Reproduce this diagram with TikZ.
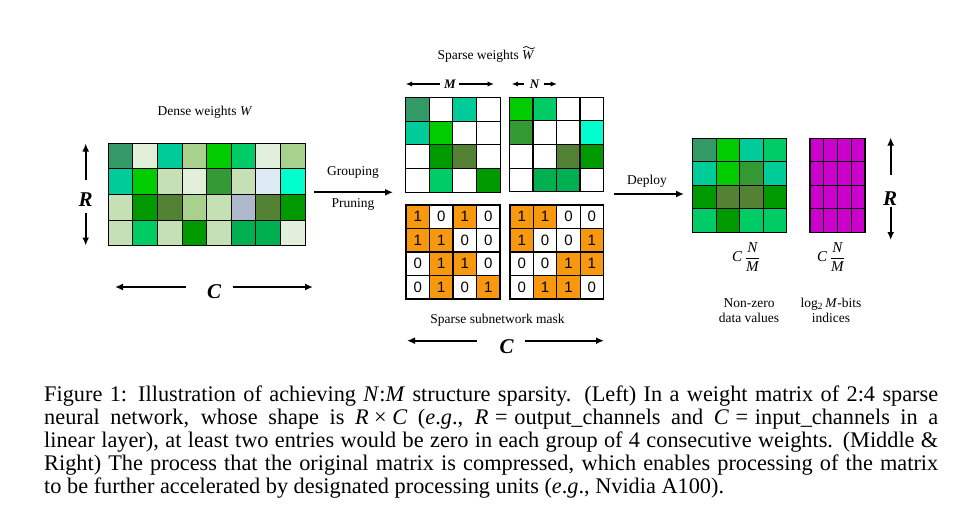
\documentclass[tikz,border=0pt]{standalone}
\usepackage{fontspec}
\usepackage{amsmath}
\setmainfont{Liberation Serif}
\newfontfamily\digitfont{Liberation Sans}
\usetikzlibrary{arrows.meta}
\definecolor{dtl}{HTML}{339966}
\definecolor{pal}{HTML}{E2EFDA}
\definecolor{tea}{HTML}{00CC99}
\definecolor{lgr}{HTML}{A9D18E}
\definecolor{bgr}{HTML}{00CC00}
\definecolor{grn}{HTML}{00CC66}
\definecolor{pgr}{HTML}{C5E0B4}
\definecolor{mgr}{HTML}{339933}
\definecolor{pbl}{HTML}{DEEBF7}
\definecolor{cyn}{HTML}{00FFCC}
\definecolor{dgr}{HTML}{009900}
\definecolor{olv}{HTML}{548235}
\definecolor{gbl}{HTML}{ADB9CA}
\definecolor{gbf}{HTML}{00B050}
\definecolor{orng}{HTML}{F7980F}
\definecolor{mag}{HTML}{CC00CC}
\tikzset{
  cell/.style={draw=black, line width=1.1pt},
  lbl/.style={inner sep=0pt, font=\fontsize{13.5}{15.5}\selectfont, align=center},
  big/.style={inner sep=0pt, font=\fontsize{21}{23}\selectfont\bfseries\itshape},
  small/.style={inner sep=0pt, font=\fontsize{13}{15}\selectfont\bfseries\itshape},
  digit/.style={inner sep=0pt, font=\fontsize{15}{17}\selectfont\digitfont},
  arr/.style={line width=1.8pt, -{Latex[length=8pt,width=7pt]}},
  sarr/.style={line width=1.5pt, -{Latex[length=6.5pt,width=5.5pt]}},
}
\begin{document}
\begin{tikzpicture}[x=1pt,y=-1pt]
\useasboundingbox[fill=white] (0,0) rectangle (968,527);

% ---------- Dense weights ----------
\foreach \row [count=\ri from 0] in {
  {dtl,pal,tea,lgr,bgr,grn,pal,lgr},
  {tea,bgr,pgr,pal,mgr,pgr,pbl,cyn},
  {pgr,dgr,olv,lgr,pgr,gbl,olv,dgr},
  {pgr,grn,pgr,dgr,pgr,gbf,gbf,pal}}{
  \foreach \col [count=\ci from 0] in \row {
    \filldraw[cell, fill=\col] ({108.3+\ci*24.6},{143.3+\ri*25.6}) rectangle ++(24.6,25.6);
  }
}
\node[lbl] (denseT) at (205,112) {Dense weights \textit{W}};
\node[big] (denseR) at (85.7,200) {R};
\coordinate (dRu1) at (85.7,180); \coordinate (dRu2) at (85.7,143.5);
\coordinate (dRd1) at (85.7,213); \coordinate (dRd2) at (85.7,245.5);
\draw[arr] (dRu1) -- (dRu2);
\draw[arr] (dRd1) -- (dRd2);
\node[big] (denseC) at (214,292) {C};
\coordinate (dCl1) at (186,287); \coordinate (dCl2) at (115,287);
\coordinate (dCr1) at (233,287); \coordinate (dCr2) at (313,287);
\draw[arr] (dCl1) -- (dCl2);
\draw[arr] (dCr1) -- (dCr2);

% ---------- Grouping arrow ----------
\coordinate (g1) at (314,192.3); \coordinate (g2) at (393,192.3);
\draw[arr] (g1) -- (g2);
\node[lbl] (grp) at (353,172.7) {Grouping};
\node[lbl] (prn) at (353,204) {Pruning};

% ---------- Sparse weights ----------
\node[lbl] (sparseT) at (486,56) {Sparse weights \textit{W}};
\coordinate (tl) at ([xshift=-11.5pt,yshift=2pt]sparseT.north east);
\coordinate (tr) at ([xshift=0pt,yshift=2pt]sparseT.north east);
\draw[line width=0.7pt] (tl) .. controls +(4,-4.5) and +(-4,4.5) .. (tr);
\foreach \row [count=\ri from 0] in {
  {dtl,white,tea,white},
  {tea,bgr,white,white},
  {white,dgr,olv,white},
  {white,grn,white,dgr}}{
  \foreach \col [count=\ci from 0] in \row {
    \filldraw[cell, fill=\col] ({405.7+\ci*23.6},{97.3+\ri*23.8}) rectangle ++(23.6,23.8);
  }
}
\foreach \row [count=\ri from 0] in {
  {bgr,grn,white,white},
  {mgr,white,white,cyn},
  {white,white,olv,dgr},
  {white,gbf,gbf,white}}{
  \foreach \col [count=\ci from 0] in \row {
    \filldraw[cell, fill=\col] ({509.5+\ci*23.5},{97.3+\ri*23.6}) rectangle ++(23.5,23.6);
  }
}
\node[small] (labM) at (450,84) {M};
\coordinate (m1) at (440,84); \coordinate (m2) at (405.7,84);
\coordinate (m3) at (459,84); \coordinate (m4) at (494,84);
\draw[sarr] (m1) -- (m2);
\draw[sarr] (m3) -- (m4);
\node[small] (labN) at (534.5,84) {N};
\coordinate (n1) at (524,84); \coordinate (n2) at (511.7,84);
\coordinate (n3) at (544,84); \coordinate (n4) at (557,84);
\draw[sarr] (n1) -- (n2);
\draw[sarr] (n3) -- (n4);

% ---------- Mask ----------
\foreach \row [count=\ri from 0] in {
  {1,0,1,0},{1,1,0,0},{0,1,1,0},{0,1,0,1}}{
  \foreach \v [count=\ci from 0] in \row {
    \ifnum\v=1 \def\fc{orng}\else\def\fc{white}\fi
    \filldraw[cell, fill=\fc] ({406+\ci*23.5},{205+\ri*23.5}) rectangle ++(23.5,23.5);
    \node[digit] (mL-\ri-\ci) at ({406+\ci*23.5+11.75},{205+\ri*23.5+11.75}) {\v};
  }
}
\foreach \row [count=\ri from 0] in {
  {1,1,0,0},{1,0,0,1},{0,0,1,1},{0,1,1,0}}{
  \foreach \v [count=\ci from 0] in \row {
    \ifnum\v=1 \def\fc{orng}\else\def\fc{white}\fi
    \filldraw[cell, fill=\fc] ({510+\ci*23.4},{205+\ri*23.5}) rectangle ++(23.4,23.5);
    \node[digit] (mR-\ri-\ci) at ({510+\ci*23.4+11.7},{205+\ri*23.5+11.75}) {\v};
  }
}
\node[lbl] (maskT) at (497.5,320) {Sparse subnetwork mask};
\node[big] (maskC) at (506.7,347) {C};
\coordinate (mc1) at (477,340.7); \coordinate (mc2) at (407,340.7);
\coordinate (mc3) at (525,340.7); \coordinate (mc4) at (604,340.7);
\draw[arr] (mc1) -- (mc2);
\draw[arr] (mc3) -- (mc4);

% ---------- Deploy ----------
\coordinate (d1) at (614,194); \coordinate (d2) at (684,194);
\draw[arr] (d1) -- (d2);
\node[lbl] (dep) at (647,181.7) {Deploy};

% ---------- Compressed ----------
\foreach \row [count=\ri from 0] in {
  {dtl,bgr,tea,grn},
  {tea,bgr,mgr,tea},
  {dgr,olv,olv,dgr},
  {grn,dgr,grn,grn}}{
  \foreach \col [count=\ci from 0] in \row {
    \filldraw[cell, fill=\col] ({692.7+\ci*23.5},{138.3+\ri*23.5}) rectangle ++(23.5,23.5);
  }
}
\foreach \ri in {0,...,3}{
  \foreach \ci in {0,...,3}{
    \filldraw[cell, fill=mag] ({810+\ci*13.75},{138.3+\ri*23.5}) rectangle ++(13.75,23.5);
  }
}
\node[inner sep=0pt, font=\fontsize{15}{17}\selectfont] (cnm1) at (746,257) {\textit{C}\,$\dfrac{\textit{N}}{\textit{M}}$};
\node[inner sep=0pt, font=\fontsize{15}{17}\selectfont] (cnm2) at (831,257) {\textit{C}\,$\dfrac{\textit{N}}{\textit{M}}$};
\node[lbl] (nz) at (749,310.5) {Non-zero\\data values};
\node[lbl] (lg) at (831,310.5) {log\textsubscript{2}\,\textit{M}-bits\\indices};
\node[big] (rightR) at (890,199) {R};
\coordinate (rR1) at (890.7,175); \coordinate (rR2) at (890.7,137.5);
\coordinate (rR3) at (890.7,207); \coordinate (rR4) at (890.7,240);
\draw[arr] (rR1) -- (rR2);
\draw[arr] (rR3) -- (rR4);

% ---------- Caption ----------
\node[anchor=base west, inner sep=0pt] (cap) at (44,401) {\parbox[t]{894pt}{\fontsize{22.3}{23}\selectfont
Figure 1: Illustration of achieving \textit{N}:\textit{M} structure sparsity. (Left) In a weight matrix of 2:4 sparse\linebreak
neural network, whose shape is \textit{R}\hspace{0.25em}×\hspace{0.25em}\textit{C} (\textit{e}.\textit{g}., \textit{R}\hspace{0.3em}=\hspace{0.3em}output\_channels and \textit{C}\hspace{0.3em}=\hspace{0.3em}input\_channels in a\linebreak
linear layer), at least two entries would be zero in each group of 4 consecutive weights. (Middle \&\linebreak
Right) The process that the original matrix is compressed, which enables processing of the matrix\linebreak
to be further accelerated by designated processing units (\textit{e}.\textit{g}., Nvidia A100).}};
\end{tikzpicture}
\end{document}
